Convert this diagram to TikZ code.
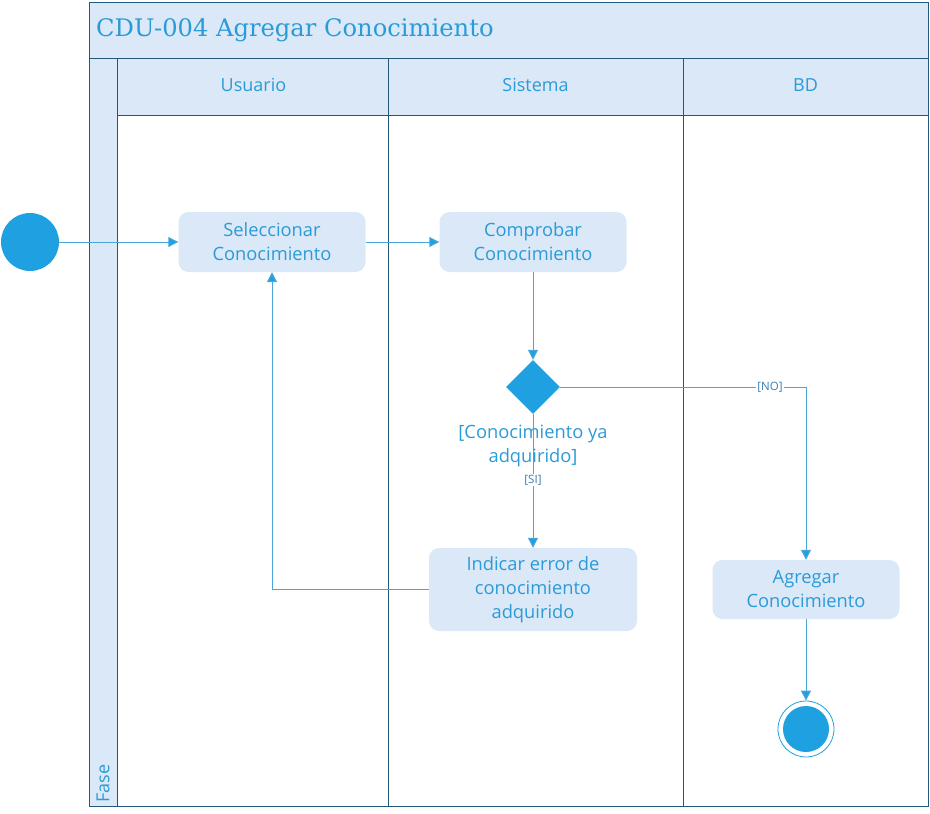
\documentclass[tikz,border=0pt]{standalone}
\usepackage{fontspec}
\setmainfont{Open Sans}
\newfontfamily\titlefont{DejaVu Serif}
\usetikzlibrary{arrows.meta,shapes.geometric}
\definecolor{txtblue}{HTML}{2A9BD8}
\definecolor{lightfill}{HTML}{DAE8F7}
\definecolor{solidblue}{HTML}{1FA0E0}
\definecolor{edgeblue}{HTML}{4AA6D8}
\definecolor{frameblue}{HTML}{24587A}
\definecolor{guardblue}{HTML}{3A7CAE}
\tikzset{
  frame/.style={draw=frameblue, line width=1pt},
  band/.style={frame, fill=lightfill},
  act/.style={fill=lightfill, rounded corners=10pt, text=txtblue, align=center,
     font=\fontsize{18.3}{24}\selectfont, inner sep=0pt},
  lanetxt/.style={text=txtblue, font=\fontsize{18}{22}\selectfont},
  flow/.style={draw=edgeblue, line width=1pt, -{Triangle[length=10pt,width=10pt,fill=solidblue]}},
  guard/.style={text=guardblue, font=\fontsize{11.5}{13}\selectfont, fill=white, inner sep=1pt},
  decision/.style={diamond, fill=solidblue, minimum width=54pt, minimum height=54pt, inner sep=0pt},
}
\begin{document}
\begin{tikzpicture}[x=1pt,y=-1pt]
\useasboundingbox (0,0) rectangle (930,814);
% pool
\draw[band] (89,2) rectangle (928,58);
\node[anchor=west, text=txtblue, font=\titlefont\fontsize{24.2}{28}\selectfont, inner sep=0pt] (title) at (96,30) {CDU-004 Agregar Conocimiento};
\draw[band] (89,58) rectangle (117,806);
\node[rotate=90, anchor=west, lanetxt, inner sep=0pt] (fase) at (103,803) {Fase};
\draw[band] (117,58) rectangle (928,115);
\draw[frame] (117,115) rectangle (928,806);
\draw[frame] (388,58) -- (388,806);
\draw[frame] (683,58) -- (683,806);
\draw[frame] (89,2) rectangle (928,806);
\node[lanetxt] (l1) at (253.5,85) {Usuario};
\node[lanetxt] (l2) at (535.5,85) {Sistema};
\node[lanetxt] (l3) at (805.5,85) {BD};
% nodes
\node[circle, fill=solidblue, minimum size=58pt, inner sep=0pt] (start) at (30,242) {};
\node[act, minimum width=187pt, minimum height=60pt] (sel) at (272,242) {Seleccionar\\Conocimiento};
\node[act, minimum width=187pt, minimum height=60pt] (comp) at (533,242) {Comprobar\\Conocimiento};
\node[decision] (dec) at (533,387) {};
\node[act, minimum width=208pt, minimum height=83pt] (ind) at (533,589.5) {Indicar error de\\conocimiento\\adquirido};
\node[act, minimum width=187pt, minimum height=59pt] (agr) at (806,589.5) {Agregar\\Conocimiento};
\node[circle, draw=solidblue, line width=0.8pt, fill=white, minimum size=56pt, inner sep=0pt] (fin) at (806,729) {};
\node[circle, fill=solidblue, minimum size=46pt, inner sep=0pt] (finin) at (806,729) {};
% edges
\draw[flow] (start) -- (sel);
\draw[flow] (sel) -- (comp);
\draw[flow] (comp) -- (dec);
\draw[flow] (dec) -- (ind);
\node[text=txtblue, align=center, font=\fontsize{18.3}{24}\selectfont, inner sep=0pt] (cond) at (533,446) {[Conocimiento ya\\adquirido]};
\node[guard] (si) at (533,480) {[SI]};
\draw[flow] (dec.east) -| (agr.north);
\node[guard] (no) at (770,387) {[NO]};
\draw[flow] (ind.west) -| (sel.south);
\draw[flow] (agr) -- (fin);
\end{tikzpicture}
\end{document}
